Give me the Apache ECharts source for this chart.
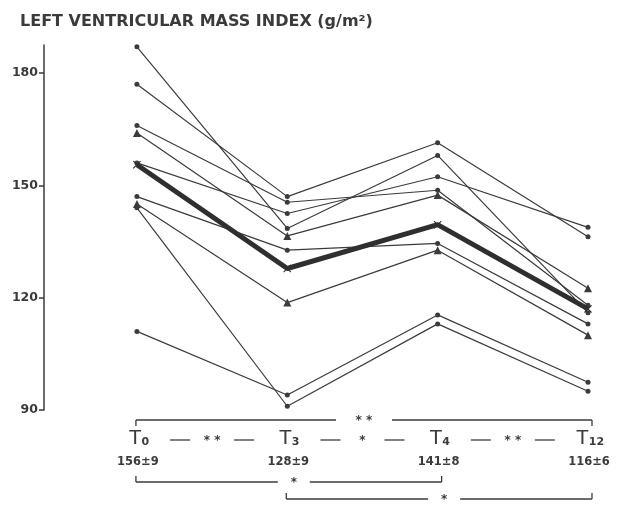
<!DOCTYPE html>
<html>
<head>
<meta charset="utf-8">
<script src="https://cdn.jsdelivr.net/npm/echarts@6/dist/echarts.min.js"></script>
<style>
  html, body { margin: 0; padding: 0; background: #fff; }
  #chart { width: 617px; height: 514px; }
</style>
</head>
<body>
<div id="chart"></div>
<script>
// time points (months)
const times = ['T0', 'T3', 'T4', 'T12'];
const timeSubs = ['0', '3', '4', '12'];
const meanLabels = ['156±9', '128±9', '141±8', '116±6'];
const yTicks = [90, 120, 150, 180];

// single patients, g/m2
const p1 = [187, 138.5, 158, 116];
const p2 = [177, 147, 161.4, 136.3];
const p3 = [166, 145.5, 148.7, 118];
const p4 = [164, 136.5, 147.4, 122.5];
const p5 = [156, 142.5, 152.3, 138.8];
const p6 = [147, 132.7, 134.5, 113];
const p7 = [145, 118.7, 132.7, 110];
const p8 = [144, 91, 113, 95];
const p9 = [111, 94, 115.4, 97.4];
const patients = [p1, p2, p3, p4, p5, p6, p7, p8, p9];
// patients drawn with triangles
const triangleOnes = [p4, p7];

// mean line
const meanLine = [155.5, 127.8, 139.5, 117];

// significance marks
const pairSig = ['* *', '*', '* *'];        // T0-T3, T3-T4, T4-T12
const spanSig = [['* *', 0, 3], ['*', 0, 2], ['*', 1, 3]];

const ink = '#3b3b3b';
const font = 'DejaVu Sans';

const xMark = 'path://M0,1L1,0L5,4L9,0L10,1L6,5L10,9L9,10L5,6L1,10L0,9L4,5Z';

let chart = echarts.init(document.getElementById('chart'));

let series = patients.map(function (p) {
  const tri = triangleOnes.indexOf(p) >= 0;
  return {
    type: 'line',
    data: p.map(function (v, i) { return [i, v]; }),
    symbol: tri ? 'triangle' : 'circle',
    symbolSize: tri ? 8 : 5,
    lineStyle: { color: ink, width: 1.2 },
    itemStyle: { color: ink },
    silent: true,
    z: 2,
  };
});
series.push({
  type: 'line',
  data: meanLine.map(function (v, i) { return [i, v]; }),
  symbol: xMark,
  symbolSize: 8,
  lineStyle: { color: '#2f2f2f', width: 5 },
  itemStyle: { color: '#2f2f2f' },
  silent: true,
  z: 3,
});

let option = {
  animation: false,
  backgroundColor: '#fff',
  title: {
    text: 'LEFT VENTRICULAR MASS INDEX (g/m²)',
    left: 15,
    top: 9,
    textStyle: { fontFamily: font, fontSize: 16, fontWeight: 'bold', color: ink },
  },
  grid: { left: 44, right: 29, top: 45, bottom: 104 },
  xAxis: {
    type: 'value',
    min: -0.618,
    max: 3,
    show: false,
  },
  yAxis: {
    type: 'value',
    min: 90,
    max: 187.5,
    interval: 30,
    axisLine: { show: true, onZero: false, lineStyle: { color: ink, width: 1.5 } },
    axisTick: { show: true, length: 5, customValues: yTicks, lineStyle: { color: ink, width: 1.5 } },
    axisLabel: {
      customValues: yTicks,
      margin: 6,
      color: ink,
      fontFamily: font,
      fontSize: 12.5,
      fontWeight: 'bold',
    },
    splitLine: { show: false },
  },
  series: series,
};
chart.setOption(option);

// annotation below the plot, placed at the time points
let px = times.map(function (t, i) { return chart.convertToPixel({ xAxisIndex: 0 }, i); });
let g = [];
function seg(x1, y1, x2, y2) {
  g.push({ type: 'line', shape: { x1: x1, y1: y1, x2: x2, y2: y2 }, style: { stroke: ink, lineWidth: 1.3 }, silent: true });
}
function txt(x, y, s, size, rich) {
  g.push({
    type: 'text', x: x, y: y, silent: true,
    style: {
      text: s, fill: ink, font: 'bold ' + size + 'px ' + font,
      align: 'center', verticalAlign: 'middle', rich: rich,
    },
  });
}

// time labels and means
times.forEach(function (t, i) {
  txt(px[i] + 2, 438, '{t|T}{s|' + timeSubs[i] + '}', 18, {
    t: { fontSize: 21, fontFamily: 'Liberation Sans', fill: ink, verticalAlign: 'bottom' },
    s: { fontSize: 11, fontFamily: font, fontWeight: 'bold', fill: ink, padding: [8, 0, 0, 0] },
  });
  txt(px[i] + 1, 462, meanLabels[i], 11.5);
});

// significance between neighbours
pairSig.forEach(function (s, i) {
  const c = (px[i] + px[i + 1]) / 2;
  seg(c - 42, 440, c - 22, 440);
  seg(c + 22, 440, c + 42, 440);
  txt(c, 441, s, 12);
});

// brackets over longer spans
const spanY = [420, 482, 499];
spanSig.forEach(function (sp, k) {
  const y = spanY[k];
  const x1 = px[sp[1]] - 1;
  const x2 = px[sp[2]] + 4;
  const c = (x1 + x2) / 2 + (k === 0 ? 0 : 5);
  const gap = sp[0].length > 1 ? 28 : 16;
  const d = k === 0 ? 6 : -6;
  seg(x1, y + d, x1, y);
  seg(x1, y, c - gap, y);
  seg(c + gap, y, x2, y);
  seg(x2, y, x2, y + d);
  txt(c, y + 1, sp[0], 12);
});

chart.setOption({ graphic: g });
</script>
</body>
</html>
